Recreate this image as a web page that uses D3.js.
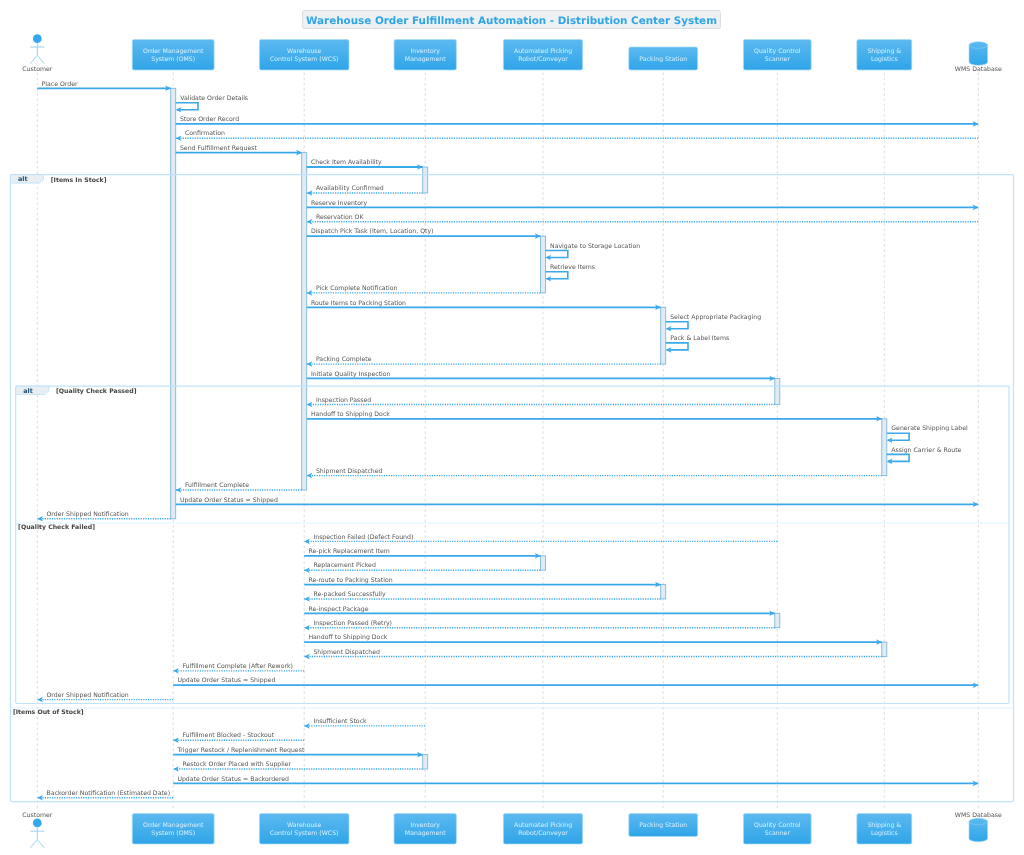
<!DOCTYPE html>
<html>
<head>
<meta charset="utf-8">
<script src="https://cdn.jsdelivr.net/npm/d3@7"></script>
<style>
  html, body { margin: 0; padding: 0; background: #fff; }
  svg { filter: blur(0.3px); }
  text { font-family: "DejaVu Sans", sans-serif; text-rendering: geometricPrecision; }
</style>
</head>
<body>
<svg id="chart" width="1024" height="855"></svg>
<script>
var titleText = "Warehouse Order Fulfillment Automation - Distribution Center System";

var participants = ["CUST", "OMS", "WCS", "INV", "ROBOT", "PACK", "QC", "SHIP", "DB"];
var participantKinds = ["actor", "box", "box", "box", "box", "box", "box", "box", "database"];
var participantLabels = [
  ["Customer"],
  ["Order Management", "System (OMS)"],
  ["Warehouse", "Control System (WCS)"],
  ["Inventory", "Management"],
  ["Automated Picking", "Robot/Conveyor"],
  ["Packing Station"],
  ["Quality Control", "Scanner"],
  ["Shipping &", "Logistics"],
  ["WMS Database"]
];

// from, to, label, arrow, activation ("+" activates target, "-" ends source)
var sequence = [
  ["CUST", "OMS", "Place Order", "->", "+"],
  ["OMS", "OMS", "Validate Order Details", "->"],
  ["OMS", "DB", "Store Order Record", "->"],
  ["DB", "OMS", "Confirmation", "-->"],
  ["OMS", "WCS", "Send Fulfillment Request", "->", "+"],
  ["WCS", "INV", "Check Item Availability", "->", "+"],
  ["alt", "Items In Stock"],
  ["INV", "WCS", "Availability Confirmed", "-->", "-"],
  ["WCS", "DB", "Reserve Inventory", "->"],
  ["DB", "WCS", "Reservation OK", "-->"],
  ["WCS", "ROBOT", "Dispatch Pick Task (Item, Location, Qty)", "->", "+"],
  ["ROBOT", "ROBOT", "Navigate to Storage Location", "->"],
  ["ROBOT", "ROBOT", "Retrieve Items", "->"],
  ["ROBOT", "WCS", "Pick Complete Notification", "-->", "-"],
  ["WCS", "PACK", "Route Items to Packing Station", "->", "+"],
  ["PACK", "PACK", "Select Appropriate Packaging", "->"],
  ["PACK", "PACK", "Pack & Label Items", "->"],
  ["PACK", "WCS", "Packing Complete", "-->", "-"],
  ["WCS", "QC", "Initiate Quality Inspection", "->", "+"],
  ["alt", "Quality Check Passed"],
  ["QC", "WCS", "Inspection Passed", "-->", "-"],
  ["WCS", "SHIP", "Handoff to Shipping Dock", "->", "+"],
  ["SHIP", "SHIP", "Generate Shipping Label", "->"],
  ["SHIP", "SHIP", "Assign Carrier & Route", "->"],
  ["SHIP", "WCS", "Shipment Dispatched", "-->", "-"],
  ["WCS", "OMS", "Fulfillment Complete", "-->", "-"],
  ["OMS", "DB", "Update Order Status = Shipped", "->"],
  ["OMS", "CUST", "Order Shipped Notification", "-->", "-"],
  ["else", "Quality Check Failed"],
  ["QC", "WCS", "Inspection Failed (Defect Found)", "-->"],
  ["WCS", "ROBOT", "Re-pick Replacement Item", "->", "+"],
  ["ROBOT", "WCS", "Replacement Picked", "-->", "-"],
  ["WCS", "PACK", "Re-route to Packing Station", "->", "+"],
  ["PACK", "WCS", "Re-packed Successfully", "-->", "-"],
  ["WCS", "QC", "Re-inspect Package", "->", "+"],
  ["QC", "WCS", "Inspection Passed (Retry)", "-->", "-"],
  ["WCS", "SHIP", "Handoff to Shipping Dock", "->", "+"],
  ["SHIP", "WCS", "Shipment Dispatched", "-->", "-"],
  ["WCS", "OMS", "Fulfillment Complete (After Rework)", "-->"],
  ["OMS", "DB", "Update Order Status = Shipped", "->"],
  ["OMS", "CUST", "Order Shipped Notification", "-->"],
  ["end"],
  ["else", "Items Out of Stock"],
  ["INV", "WCS", "Insufficient Stock", "-->"],
  ["WCS", "OMS", "Fulfillment Blocked - Stockout", "-->"],
  ["OMS", "INV", "Trigger Restock / Replenishment Request", "->", "+"],
  ["INV", "OMS", "Restock Order Placed with Supplier", "-->", "-"],
  ["OMS", "DB", "Update Order Status = Backordered", "->"],
  ["OMS", "CUST", "Backorder Notification (Estimated Date)", "-->"],
  ["end"]
];

var blue = "#39a9ec", frameBlue = "#bfe3fa", textGray = "#555", lineGray = "#d4d4d4";
var fontSize = 6.2;

var x = d3.scaleOrdinal()
  .domain(participants)
  .range([37.3, 173.2, 304.2, 425.2, 543, 663.2, 777.3, 884.3, 978.3]);

var svg = d3.select("#chart");
var defs = svg.append("defs");

var grad = defs.append("linearGradient").attr("id", "boxFill")
  .attr("x1", 0).attr("y1", 0).attr("x2", 0).attr("y2", 1);
grad.append("stop").attr("offset", "0%").attr("stop-color", "#5cb9f0");
grad.append("stop").attr("offset", "100%").attr("stop-color", "#2fa5e8");

// walk the sequence once to get y of every message, activation bars and frames
var y = 88.3, msgs = [], bars = [], open = {}, frames = [], stack = [], elses = [];
sequence.forEach(function (s, i) {
  if (s[0] === "alt") {
    var f = { top: y - 6.7, label: s[1], depth: stack.length };
    frames.push(f);
    stack.push(f);
    y += 11.6;
    return;
  }
  if (s[0] === "else") {
    var afterEnd = sequence[i - 1][0] === "end";
    elses.push({ y: afterEnd ? y - 6.1 : y - 10.1, label: s[1], frame: stack[stack.length - 1] });
    y += afterEnd ? 11.9 : 8.3;
    return;
  }
  if (s[0] === "end") {
    stack.pop().bottom = y - 10.5;
    return;
  }
  var m = { from: s[0], to: s[1], label: s[2], dashed: s[3] === "-->", self: s[0] === s[1], y: y };
  msgs.push(m);
  if (s[4] === "+") {
    open[m.to] = { who: m.to, top: y };
  }
  if (s[4] === "-") {
    open[m.from].bottom = y;
    bars.push(open[m.from]);
    m.closes = open[m.from];
    delete open[m.from];
  }
  m.activeFrom = !!open[m.from] || !!m.closes;
  m.activeTo = !!open[m.to];
  y += m.self ? 21.2 : 14.38;
});
frames.forEach(function (f) { f.right = f.depth ? 1009 : 1013.5; f.left = f.depth ? 15.7 : 10.5; });

// lifelines
svg.append("g").selectAll("line").data(participants).join("line")
  .attr("x1", function (d) { return x(d); }).attr("x2", function (d) { return x(d); })
  .attr("y1", 72.5).attr("y2", 811)
  .attr("stroke", lineGray).attr("stroke-width", 0.8).attr("stroke-dasharray", "2.6,2.6");

// activation bars
svg.append("g").selectAll("rect").data(bars).join("rect")
  .attr("x", function (d) { return x(d.who) - 2.5; })
  .attr("y", function (d) { return d.top; })
  .attr("width", 5)
  .attr("height", function (d) { return d.bottom - d.top; })
  .attr("fill", "#e2ebf2").attr("stroke", "#7db9de").attr("stroke-width", 0.9);

// alt frames
var frameG = svg.append("g").selectAll("g").data(frames).join("g");
frameG.append("rect")
  .attr("x", function (d) { return d.left; }).attr("y", function (d) { return d.top; })
  .attr("width", function (d) { return d.right - d.left; })
  .attr("height", function (d) { return d.bottom - d.top; })
  .attr("rx", 1.5)
  .attr("fill", "none").attr("stroke", frameBlue).attr("stroke-width", 1.2);
frameG.append("path")
  .attr("d", function (d) {
    var l = d.left, t = d.top;
    return "M" + l + "," + t + "H" + (l + 33) + "V" + (t + 5) + "L" + (l + 28.5) + "," + (t + 8.4) + "H" + l + "Z";
  })
  .attr("fill", "#e8eef2").attr("stroke", frameBlue).attr("stroke-width", 0.9);
frameG.append("text")
  .attr("x", function (d) { return d.left + 7.5; }).attr("y", function (d) { return d.top + 6.7; })
  .attr("font-size", 6.4).attr("font-weight", "bold").attr("fill", "#1f4f78")
  .text("alt");
frameG.append("text")
  .attr("x", function (d) { return d.left + 40.3; }).attr("y", function (d) { return d.top + 6.9; })
  .attr("font-size", fontSize).attr("font-weight", "bold").attr("fill", "#444")
  .text(function (d) { return "[" + d.label + "]"; });

var elseG = svg.append("g").selectAll("g").data(elses).join("g");
elseG.append("line")
  .attr("x1", function (d) { return d.frame.left; }).attr("x2", function (d) { return d.frame.right; })
  .attr("y1", function (d) { return d.y; }).attr("y2", function (d) { return d.y; })
  .attr("stroke", frameBlue).attr("stroke-width", 0.9).attr("stroke-dasharray", "1,1");
elseG.append("text")
  .attr("x", function (d) { return d.frame.left + 2.4; }).attr("y", function (d) { return d.y + 6.3; })
  .attr("font-size", fontSize).attr("font-weight", "bold").attr("fill", "#444")
  .text(function (d) { return "[" + d.label + "]"; });

// messages
function edgeFrom(m) {
  var dir = x(m.to) >= x(m.from) ? 1 : -1;
  return x(m.from) + (m.activeFrom ? dir * 2.5 : 0);
}
function edgeTo(m) {
  var dir = x(m.to) >= x(m.from) ? 1 : -1;
  return x(m.to) - (m.activeTo ? dir * 2.5 : 0);
}
function arrowHead(tipX, tipY, dir) {
  return "M" + tipX + "," + tipY +
    "L" + (tipX - dir * 5.6) + "," + (tipY - 2.8) +
    "L" + (tipX - dir * 4.2) + "," + tipY +
    "L" + (tipX - dir * 5.6) + "," + (tipY + 2.8) + "Z";
}
var msgG = svg.append("g").selectAll("g").data(msgs).join("g");
msgG.filter(function (d) { return !d.self; }).append("line")
  .attr("x1", edgeFrom).attr("x2", edgeTo)
  .attr("y1", function (d) { return d.y; }).attr("y2", function (d) { return d.y; })
  .attr("stroke", blue).attr("stroke-width", function (d) { return d.dashed ? 1.4 : 1.8; })
  .attr("stroke-dasharray", function (d) { return d.dashed ? "1.2,1.2" : null; });
msgG.filter(function (d) { return !d.self; }).append("path")
  .attr("d", function (d) { return arrowHead(edgeTo(d), d.y, x(d.to) > x(d.from) ? 1 : -1); })
  .attr("fill", blue);
msgG.filter(function (d) { return d.self; }).append("path")
  .attr("d", function (d) {
    var a = x(d.from) + 2.5;
    return "M" + a + "," + d.y + "H" + (a + 22.3) + "V" + (d.y + 7) + "H" + (a + 1);
  })
  .attr("fill", "none").attr("stroke", blue).attr("stroke-width", 1.6);
msgG.filter(function (d) { return d.self; }).append("path")
  .attr("d", function (d) { return arrowHead(x(d.from) + 2.6, d.y + 7, -1); })
  .attr("fill", blue);
msgG.append("text")
  .attr("x", function (d) {
    if (d.self) return x(d.from) + 7;
    var left = Math.min(edgeFrom(d), edgeTo(d));
    return left + (x(d.to) < x(d.from) ? 9.2 : 4.2);
  })
  .attr("y", function (d) { return d.y - 2.8; })
  .attr("font-size", fontSize).attr("fill", textGray)
  .text(function (d) { return d.label; });

// participant heads, drawn top and bottom
var places = [{ boxTop: 39.5, boxBottom: 70, at: "top" }, { boxTop: 813.5, boxBottom: 844, at: "bottom" }];
var people = participants.map(function (p, i) {
  return { id: p, kind: participantKinds[i], lines: participantLabels[i] };
});
places.forEach(function (pl) {
  var g = svg.append("g").selectAll("g").data(people).join("g")
    .attr("transform", function (d) { return "translate(" + x(d.id) + ",0)"; });

  var boxes = g.filter(function (d) { return d.kind === "box"; });
  var boxText = boxes.append("text")
    .attr("text-anchor", "middle").attr("font-size", fontSize).attr("fill", "#d9f0fd");
  boxText.selectAll("tspan").data(function (d) { return d.lines; }).join("tspan")
    .attr("x", 0)
    .attr("y", function (l, i, n) {
      var bottom = pl.at === "top" ? 60.6 : (n.length === 1 ? 827.3 : 834.6);
      return bottom - (n.length - 1 - i) * 7.3;
    })
    .text(function (l) { return l; });
  boxes.insert("rect", "text")
    .each(function () {
      var t = d3.select(this.parentNode).select("text").node();
      var w = t.getBBox().width + 21;
      var lines = d3.select(this.parentNode).datum().lines.length;
      var top = pl.at === "top" ? (lines === 1 ? 47 : pl.boxTop) : pl.boxTop;
      var bot = pl.at === "top" ? pl.boxBottom : (lines === 1 ? 836.5 : pl.boxBottom);
      d3.select(this).attr("x", -w / 2).attr("width", w).attr("y", top).attr("height", bot - top);
    })
    .attr("rx", 1.8)
    .attr("fill", "url(#boxFill)").attr("stroke", "#a8dbf8").attr("stroke-width", 0.7);

  var actor = g.filter(function (d) { return d.kind === "actor"; });
  var head = pl.at === "top" ? 38.7 : 822.9;
  actor.append("circle").attr("cy", head).attr("r", 4.4).attr("fill", "#38a8ec");
  actor.append("path")
    .attr("d", "M0," + (head + 4.4) + "V" + (head + 16.5) +
      "M-7," + (head + 8.3) + "H7" +
      "M-7," + (head + 25) + "L0," + (head + 16.5) + "L7," + (head + 25))
    .attr("fill", "none").attr("stroke", "#8ccdf3").attr("stroke-width", 0.9);
  actor.append("text")
    .attr("text-anchor", "middle").attr("font-size", fontSize).attr("fill", "#555")
    .attr("y", pl.at === "top" ? 71.3 : 816.8)
    .text(function (d) { return d.lines[0]; });

  var db = g.filter(function (d) { return d.kind === "database"; });
  var dbTop = pl.at === "top" ? 41.5 : 818;
  db.append("path")
    .attr("d", "M-9.3," + (dbTop + 3.5) +
      "A9.3,3.3 0 0 1 9.3," + (dbTop + 3.5) +
      "V" + (dbTop + 20.5) +
      "A9.3,3.3 0 0 1 -9.3," + (dbTop + 20.5) + "Z")
    .attr("fill", "url(#boxFill)").attr("stroke", "#a8dbf8").attr("stroke-width", 0.6);
  db.append("path")
    .attr("d", "M-9.3," + (dbTop + 3.5) + "A9.3,3.3 0 0 0 9.3," + (dbTop + 3.5))
    .attr("fill", "none").attr("stroke", "#8ccdf3").attr("stroke-width", 0.6);
  db.append("text")
    .attr("text-anchor", "middle").attr("font-size", fontSize).attr("fill", "#555")
    .attr("y", pl.at === "top" ? 71.3 : 816.8)
    .text(function (d) { return d.lines[0]; });
});

// title
var titleG = svg.append("g");
var title = titleG.append("text")
  .attr("x", 511.5).attr("y", 23.6).attr("text-anchor", "middle")
  .attr("font-size", 10.36).attr("font-weight", "bold").attr("fill", "#2fa5e8")
  .text(titleText);
var tw = title.node().getBBox().width + 7;
titleG.insert("rect", "text")
  .attr("x", 511.5 - tw / 2).attr("y", 10.5).attr("width", tw).attr("height", 18)
  .attr("rx", 1.8).attr("fill", "#eef1f3").attr("stroke", "#d4dade").attr("stroke-width", 0.9);
</script>
</body>
</html>
